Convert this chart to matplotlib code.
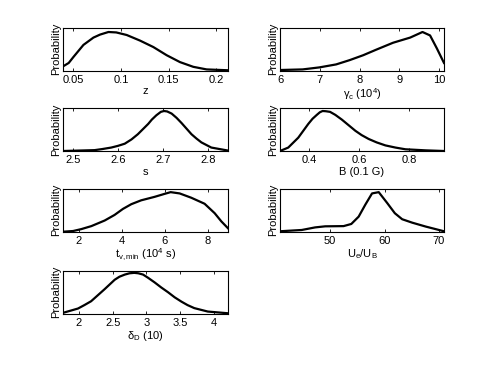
import matplotlib
matplotlib.use("Agg")
import matplotlib.pyplot as plt

plt.rcParams['font.family'] = ['Liberation Sans', 'DejaVu Sans']
plt.rcParams['mathtext.default'] = 'regular'
plt.rcParams['font.size'] = 8

# z
z_x = [0.039, 0.045, 0.05, 0.0605, 0.071, 0.078, 0.0868, 0.095, 0.106, 0.120, 0.134, 0.148, 0.162, 0.176, 0.190, 0.2125]
z_p = [0.10, 0.18, 0.32, 0.60, 0.77, 0.84, 0.90, 0.89, 0.83, 0.70, 0.55, 0.36, 0.20, 0.09, 0.03, 0.01]

# gamma_c (10^4)
g_x = [5.96, 6.57, 6.99, 7.41, 7.75, 8.09, 8.42, 8.84, 9.27, 9.58, 9.77, 9.94, 10.12]
g_p = [0.015, 0.03, 0.077, 0.146, 0.246, 0.36, 0.49, 0.65, 0.77, 0.90, 0.82, 0.52, 0.18]

# s
s_x = [2.478, 2.548, 2.565, 2.585, 2.60, 2.615, 2.63, 2.644, 2.667, 2.675, 2.685, 2.695, 2.702,
       2.709, 2.719, 2.73, 2.741, 2.752, 2.763, 2.774, 2.785, 2.807, 2.844]
s_p = [0.0, 0.02, 0.045, 0.08, 0.12, 0.17, 0.27, 0.39, 0.63, 0.73, 0.83, 0.91, 0.93,
       0.92, 0.87, 0.77, 0.65, 0.52, 0.39, 0.29, 0.20, 0.08, 0.01]

# B (0.1 G)
b_x = [0.284, 0.317, 0.357, 0.377, 0.397, 0.414, 0.431, 0.443, 0.454, 0.467, 0.484, 0.505, 0.531,
       0.558, 0.585, 0.61, 0.638, 0.67, 0.705, 0.745, 0.785, 0.866, 0.939]
b_p = [0.0, 0.08, 0.31, 0.47, 0.63, 0.75, 0.84, 0.90, 0.93, 0.925, 0.91, 0.84, 0.73,
       0.60, 0.47, 0.37, 0.28, 0.20, 0.13, 0.08, 0.04, 0.015, 0.0]

# t_v,min (10^4 s)
t_x = [1.27, 1.74, 2.12, 2.59, 3.21, 3.67, 4.06, 4.45, 4.91, 5.53, 6.0, 6.28, 6.70, 7.24, 7.86, 8.33, 8.64, 8.95]
t_p = [0.0, 0.016, 0.06, 0.13, 0.26, 0.39, 0.53, 0.64, 0.73, 0.81, 0.88, 0.92, 0.89, 0.79, 0.65, 0.43, 0.24, 0.08]

# Ue/UB
u_x = [40.77, 44.77, 47.23, 49.08, 52.46, 53.88, 55.23, 56.46, 57.69, 58.92, 60.46, 61.88, 63.23, 65.08, 67.54, 70.92]
u_p = [0.01, 0.04, 0.10, 0.125, 0.13, 0.18, 0.35, 0.63, 0.89, 0.92, 0.67, 0.43, 0.29, 0.21, 0.12, 0.01]

# delta_D (10)
d_x = [1.763, 1.985, 2.08, 2.18, 2.28, 2.38, 2.53, 2.60, 2.68, 2.75, 2.82, 2.88, 2.95, 3.02,
       3.12, 3.22, 3.32, 3.42, 3.52, 3.61, 3.71, 3.91, 4.21]
d_p = [0.02, 0.12, 0.20, 0.29, 0.43, 0.57, 0.79, 0.86, 0.91, 0.94, 0.95, 0.94, 0.91, 0.84,
       0.73, 0.61, 0.50, 0.38, 0.28, 0.20, 0.13, 0.05, 0.01]

panels = [
    (z_x, z_p, (0.039, 0.2125), [0.05, 0.1, 0.15, 0.2], ['0.05', '0.1', '0.15', '0.2'], 'z'),
    (g_x, g_p, (6.0, 10.12), [6, 7, 8, 9, 10], ['6', '7', '8', '9', '10'], r'$\gamma_c$ (10$^4$)'),
    (s_x, s_p, (2.478, 2.844), [2.5, 2.6, 2.7, 2.8], ['2.5', '2.6', '2.7', '2.8'], 's'),
    (b_x, b_p, (0.284, 0.939), [0.4, 0.6, 0.8], ['0.4', '0.6', '0.8'], 'B (0.1 G)'),
    (t_x, t_p, (1.27, 8.95), [2, 4, 6, 8], ['2', '4', '6', '8'], r'$t_{v,min}$ (10$^4$ s)'),
    (u_x, u_p, (40.77, 70.92), [50, 60, 70], ['50', '60', '70'], r'$U_e/U_B$'),
    (d_x, d_p, (1.763, 4.21), [2, 2.5, 3, 3.5, 4], ['2', '2.5', '3', '3.5', '4'], r'$\delta_D$ (10)'),
]

W, H = 491, 369
fig = plt.figure(figsize=(W / 100, H / 100), dpi=100)

col_left = [63, 280]
col_w = [165, 164]
row_bottom = [70.7, 151, 231.7, 313.7]
ax_h = 43

for i, (x, p, xl, ticks, labels, xlab) in enumerate(panels):
    r, c = divmod(i, 2)
    ax = fig.add_axes([col_left[c] / W, 1 - row_bottom[r] / H, col_w[c] / W, ax_h / H])
    ax.plot(x, p, color='black', linewidth=1.6)
    ax.set_xlim(*xl)
    ax.set_ylim(0, 1)
    ax.set_xticks(ticks)
    ax.set_xticklabels(labels)
    ax.set_yticks([])
    ax.tick_params(axis='x', direction='in', length=2.5, top=True, width=0.6, pad=3)
    for sp in ax.spines.values():
        sp.set_linewidth(0.8)
    ax.set_ylabel('Probability', labelpad=1)
    ax.set_xlabel(xlab, labelpad=1)

fig.savefig('out.png', dpi=100)
